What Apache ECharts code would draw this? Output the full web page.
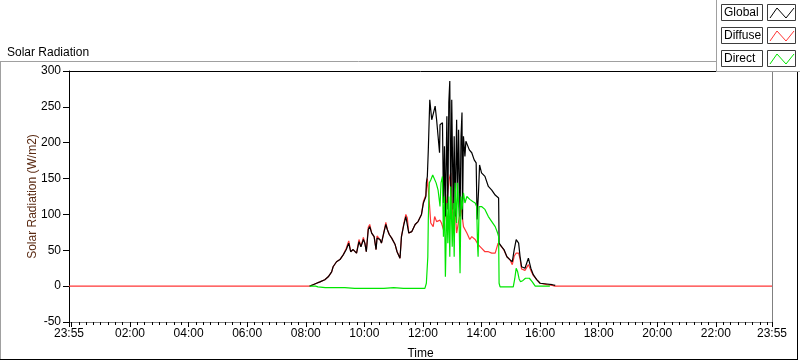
<!DOCTYPE html>
<html>
<head>
<meta charset="utf-8">
<script src="https://cdn.jsdelivr.net/npm/echarts@6/dist/echarts.min.js"></script>
<style>
html, body { margin: 0; padding: 0; background: #fff; }
#main { width: 800px; height: 361px; }
</style>
</head>
<body>
<div id="main"></div>
<script>
// times are minutes after midnight, -5 is 23:55 of the day before
var globalTime = [
    488, 495, 502, 509, 519, 526, 533, 536, 543, 550,
    557, 563, 568, 572, 577, 584, 589, 593, 598, 601,
    604, 608, 611, 615, 620, 624, 626, 632, 635, 639,
    644, 647, 651, 656, 663, 667, 673, 676, 681, 685,
    688, 691, 697, 704, 710, 714, 717, 721, 726,
    727, 729, 731, 734, 738, 741, 745, 748, 751, 754,
    755, 760, 762, 764, 766, 769, 771, 773, 775, 777,
    779, 782, 784, 786, 789, 791, 793, 796, 798, 800,
    801, 803, 806, 808, 811, 815, 820, 825, 829, 831,
    834, 836, 840, 847, 854, 861, 868, 875,
    876, 881, 886, 892, 898, 903, 907, 911, 916, 919,
    922, 929, 936, 941, 946, 953, 960, 974, 985, 991
];
var globalValue = [
    0, 2, 4, 6, 9, 13, 20, 27, 34, 37,
    44, 51, 60, 48, 51, 46, 62, 55, 65, 60,
    48, 79, 83, 74, 69, 51, 67, 65, 60, 72,
    86, 79, 72, 67, 58, 48, 39, 69, 86, 97,
    95, 74, 76, 86, 90, 92, 100, 116, 125,
    144, 153, 190, 260, 232, 240, 251, 232, 209, 186,
    225, 228, 116, 195, 97, 237, 107, 256, 286, 97,
    260, 107, 209, 97, 232, 121, 218, 97, 209, 242,
    93, 209, 181, 202, 197, 190, 186, 176, 172, 93,
    134, 169, 158, 153, 139, 134, 127, 123,
    60, 55, 51, 41, 37, 34, 51, 65, 60, 41,
    27, 25, 39, 25, 16, 9, 4, 3, 2, 1
];

var diffuseTime = [
    -5,
    488, 495, 502, 509, 519, 526, 533, 536, 543, 550,
    557, 563, 568, 572, 577, 584, 589, 593, 598, 601,
    604, 608, 611, 615, 620, 624, 626, 632, 635, 639,
    644, 647, 651, 656, 663, 667, 673, 676, 681, 685,
    688, 691, 697, 704, 710, 714, 717, 721, 726,
    729, 731, 733, 736, 741, 744, 748, 751, 755, 758,
    762, 766, 768, 771, 774, 777, 779, 782, 784, 786,
    789, 793, 796, 798, 800, 803, 806, 810, 813, 816,
    820, 827, 833, 840, 847, 854, 861, 868, 872, 874,
    876, 881, 886, 892, 898, 903, 907, 911, 916, 919,
    922, 929, 936, 941, 946, 953, 960, 974, 985, 990,
    1435
];
var diffuseValue = [
    0,
    0, 2, 4, 6, 9, 13, 20, 27, 34, 37,
    44, 53, 63, 48, 51, 46, 65, 55, 68, 60,
    48, 82, 86, 74, 69, 51, 70, 65, 60, 72,
    89, 79, 72, 67, 58, 48, 39, 69, 88, 100,
    95, 74, 76, 86, 90, 92, 100, 118, 127,
    150, 150, 118, 88, 83, 97, 90, 88, 92, 88,
    79, 100, 116, 132, 150, 158, 125, 88, 100, 107,
    74, 90, 88, 110, 100, 83, 83, 74, 74, 65,
    69, 65, 58, 53, 48, 48, 46, 46, 47, 60,
    60, 55, 50, 41, 37, 30, 42, 46, 46, 38,
    24, 22, 30, 22, 15, 9, 4, 2, 1, 0,
    0
];

var directTime = [
    488, 500, 505, 520, 540, 560, 580, 600, 620, 640,
    660, 680, 700, 724, 727, 730, 731, 733, 736, 740,
    743, 747, 751, 755, 757, 760, 762, 764, 766, 769,
    771, 773, 775, 777, 780, 782, 784, 786, 789, 791,
    794, 796, 798, 800, 803, 806, 810, 813, 816, 822,
    827, 830, 832, 833, 835, 840, 847, 854, 861, 868,
    873, 875, 876, 878, 905, 908, 911, 914, 917, 920,
    925, 930, 938, 944, 950, 980
];
var directValue = [
    0, 0, -1, -2, -2, -2, -3, -3, -3, -3,
    -2, -3, -3, -3, 4, 41, 93, 144, 148, 155,
    153, 144, 134, 111, 144, 153, 69, 125, 13, 116,
    60, 125, 41, 139, 55, 116, 41, 144, 88, 144,
    97, 18, 125, 107, 130, 116, 125, 127, 121, 118,
    116, 111, 55, 41, 111, 111, 107, 97, 90, 83,
    74, 69, 4, -1, -1, 10, 25, 20, 10, 6,
    8, 11, 11, 6, 0, 0
];

var seriesNames = ['Global', 'Diffuse', 'Direct'];
var seriesColors = ['#000000', '#ff3636', '#00e600'];

// x axis labels and big ticks
var xLabelValues = [-5, 120, 240, 360, 480, 600, 720, 840, 960, 1080, 1200, 1320, 1435];
var xMajorTicks = [-5, 0, 120, 240, 360, 480, 600, 720, 840, 960, 1080, 1200, 1320, 1435];
var xMinorTicks = [];
for (var t = 15; t < 1435; t += 15) {
    if (t % 120 !== 0) xMinorTicks.push(t);
}

var FONT = 'Liberation Sans, Arial, sans-serif';

function zip(a, b) {
    var out = [];
    for (var i = 0; i < a.length; i++) out.push([a[i], b[i]]);
    return out;
}

function hhmm(v) {
    var m = Math.round(v);
    if (m < 0) m += 1440;
    var h = Math.floor(m / 60), mm = m % 60;
    return (h < 10 ? '0' : '') + h + ':' + (mm < 10 ? '0' : '') + mm;
}

// legend drawn by hand: text box + small line sample
function legendItems() {
    var items = [];
    for (var i = 0; i < seriesNames.length; i++) {
        var y0 = 4 + i * 23;
        items.push(
            {type: 'rect', z: 101, shape: {x: 721.5, y: y0 + 0.5, width: 41, height: 16},
             style: {fill: '#fff', stroke: '#3c3c3c', lineWidth: 1}},
            {type: 'text', z: 102, x: 724, y: y0 + 9,
             style: {text: seriesNames[i], fill: '#000', font: '12px ' + FONT, verticalAlign: 'middle'}},
            {type: 'rect', z: 101, shape: {x: 767.5, y: y0 + 0.5, width: 28, height: 16},
             style: {fill: '#fff', stroke: '#3c3c3c', lineWidth: 1}},
            {type: 'polyline', z: 102,
             shape: {points: [[770, y0 + 14], [777, y0 + 4], [786, y0 + 14], [794, y0 + 4]]},
             style: {stroke: seriesColors[i], lineWidth: 1, fill: null}}
        );
    }
    return items;
}

var option = {
    animation: false,
    backgroundColor: '#fff',
    title: {
        text: 'Solar Radiation',
        left: 2,
        top: 42,
        textStyle: {fontSize: 12, fontWeight: 'normal', color: '#000', fontFamily: FONT}
    },
    grid: {left: 69, right: 28, top: 71, bottom: 39, outerBoundsMode: 'none'},
    xAxis: [
        {
            type: 'value', min: -5, max: 1435, position: 'bottom',
            name: 'Time', nameLocation: 'middle', nameGap: 26, nameMoveOverlap: false,
            nameTextStyle: {fontSize: 12, color: '#000', fontFamily: FONT},
            axisLine: {onZero: false, lineStyle: {color: '#808080', width: 1}},
            axisTick: {customValues: xMajorTicks, length: 5, lineStyle: {color: '#000'}},
            axisLabel: {customValues: xLabelValues, formatter: hhmm, margin: 6,
                        fontSize: 12, color: '#000', fontFamily: FONT},
            splitLine: {show: false}
        },
        {
            type: 'value', min: -5, max: 1435, position: 'bottom',
            axisLine: {show: false, onZero: false},
            axisTick: {customValues: xMinorTicks, length: 3, lineStyle: {color: '#000'}},
            axisLabel: {show: false},
            splitLine: {show: false}
        },
        {
            type: 'value', min: -5, max: 1435, position: 'top',
            axisLine: {onZero: false, lineStyle: {color: '#000', width: 1}},
            axisTick: {show: false}, axisLabel: {show: false}, splitLine: {show: false}
        }
    ],
    yAxis: [
        {
            type: 'value', min: -50, max: 300, interval: 50, position: 'left',
            name: 'Solar Radiation (W/m2)', nameLocation: 'middle', nameGap: 30, nameRotate: 90,
            nameMoveOverlap: false,
            nameTextStyle: {fontSize: 12, color: '#5a2a12', fontFamily: FONT},
            axisLine: {show: true, onZero: false, lineStyle: {color: '#000', width: 1}},
            axisTick: {show: true, length: 6, lineStyle: {color: '#000'}},
            axisLabel: {margin: 8, fontSize: 12, color: '#000', fontFamily: FONT},
            splitLine: {show: false}
        },
        {
            type: 'value', min: -50, max: 300, position: 'right',
            axisLine: {show: true, onZero: false, lineStyle: {color: '#808080', width: 1}},
            axisTick: {show: false}, axisLabel: {show: false}, splitLine: {show: false}
        }
    ],
    series: [
        {
            name: 'Diffuse', type: 'line', data: zip(diffuseTime, diffuseValue),
            showSymbol: false, lineStyle: {color: seriesColors[1], width: 1.2}, itemStyle: {color: seriesColors[1]}
        },
        {
            name: 'Global', type: 'line', data: zip(globalTime, globalValue),
            showSymbol: false, lineStyle: {color: seriesColors[0], width: 1.2}, itemStyle: {color: seriesColors[0]}
        },
        {
            name: 'Direct', type: 'line', data: zip(directTime, directValue),
            showSymbol: false, lineStyle: {color: seriesColors[2], width: 1.2}, itemStyle: {color: seriesColors[2]}
        }
    ],
    graphic: [
        // outer frame
        {type: 'line', shape: {x1: 0, y1: 61.5, x2: 717, y2: 61.5}, style: {stroke: '#a0a0a0', lineWidth: 1}},
        {type: 'line', shape: {x1: 0.5, y1: 61, x2: 0.5, y2: 360}, style: {stroke: '#a0a0a0', lineWidth: 1}},
        {type: 'line', shape: {x1: 0, y1: 359.5, x2: 798, y2: 359.5}, style: {stroke: '#000', lineWidth: 1}},
        {type: 'line', shape: {x1: 797.5, y1: 72, x2: 797.5, y2: 360}, style: {stroke: '#000', lineWidth: 1}},
        // legend panel
        {type: 'rect', z: 100, shape: {x: 717, y: 0, width: 83, height: 72}, style: {fill: '#fff'}},
        {type: 'line', z: 101, shape: {x1: 716.5, y1: 0, x2: 716.5, y2: 72}, style: {stroke: '#a0a0a0', lineWidth: 1}},
        {type: 'line', z: 101, shape: {x1: 716, y1: 71.5, x2: 800, y2: 71.5}, style: {stroke: '#a0a0a0', lineWidth: 1}}
    ].concat(legendItems())
};

var myChart = echarts.init(document.getElementById('main'));
myChart.setOption(option);
</script>
</body>
</html>
